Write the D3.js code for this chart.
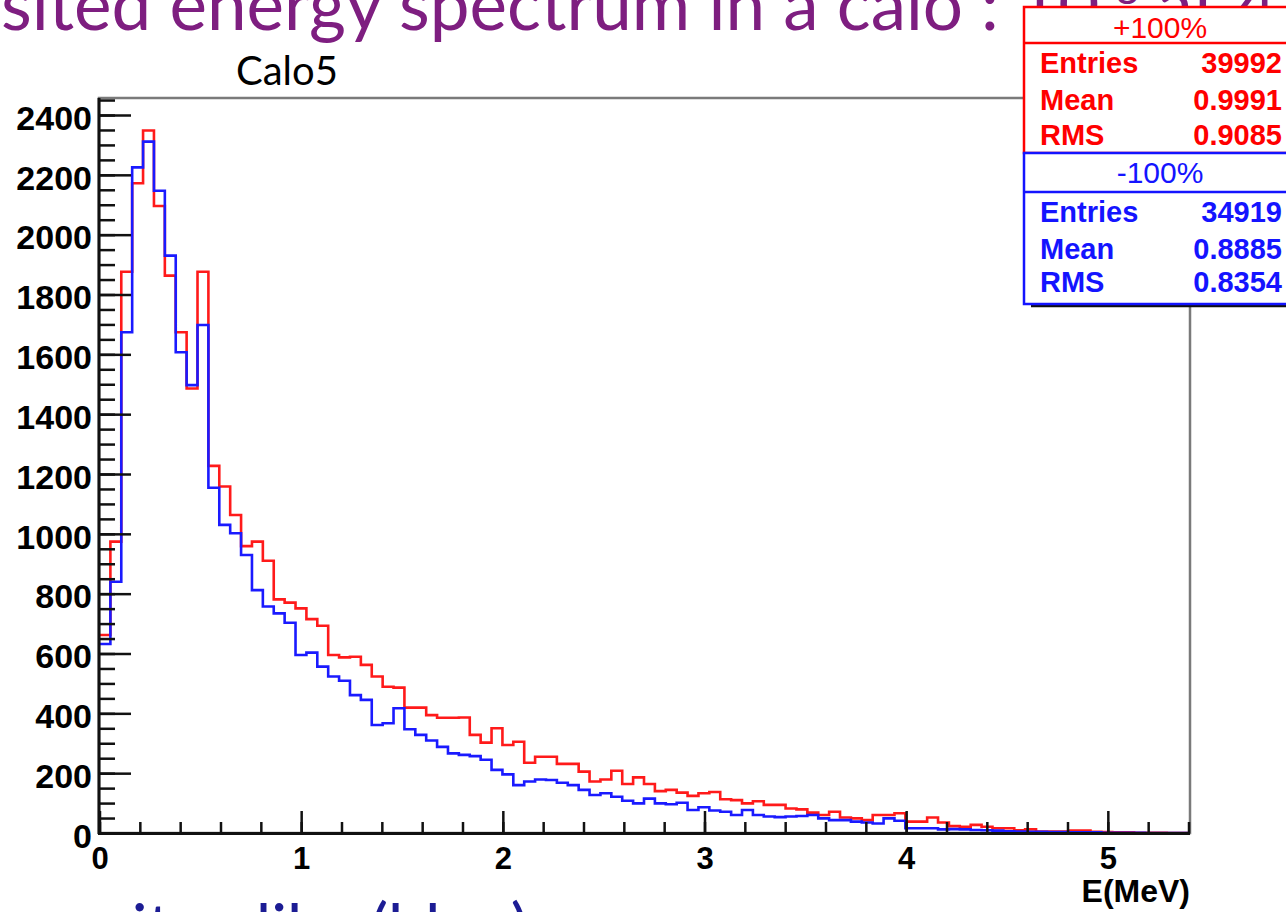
<!DOCTYPE html>
<html>
<head>
<meta charset="utf-8">
<script src="https://cdn.jsdelivr.net/npm/d3@7"></script>
<style>
  body { margin: 0; background: white; }
  svg { display: block; }
</style>
</head>
<body>
<div id="graph"></div>
<script>
// 100 bins, 0 - 5.4 MeV
const binWidth = 0.054;
const nBins = 100;

// +100% (red) bin contents
const redCounts = [
  662, 974, 1876, 2172, 2348, 2096, 1863, 1674, 1486, 1876,
  1227, 1158, 1063, 959, 974, 910, 781, 770, 751, 715,
  693, 595, 587, 589, 562, 523, 489, 486, 419, 419,
  394, 385, 385, 386, 328, 302, 350, 294, 305, 235,
  255, 255, 231, 231, 205, 172, 179, 208, 164, 186,
  164, 140, 144, 135, 124, 133, 137, 113, 110, 99,
  106, 94, 94, 82, 79, 68, 60, 71, 52, 49,
  43, 60, 60, 66, 38, 38, 52, 35, 23, 21,
  27, 21, 16, 16, 9, 12, 5, 5, 5, 8,
  8, 4, 3, 2, 2, 1, 1, 1, 0, 0
];

// -100% (blue) bin contents
const blueCounts = [
  632, 840, 1674, 2225, 2311, 2147, 1930, 1607, 1497, 1698,
  1154, 1030, 1002, 929, 812, 757, 734, 703, 595, 603,
  556, 523, 509, 461, 445, 361, 367, 417, 347, 328,
  309, 288, 266, 261, 257, 245, 211, 196, 160, 172,
  179, 177, 168, 160, 144, 127, 133, 121, 108, 99,
  115, 99, 96, 101, 77, 86, 75, 71, 60, 77,
  60, 55, 53, 55, 57, 60, 49, 43, 43, 38,
  35, 32, 49, 41, 16, 16, 16, 12, 13, 12,
  10, 9, 8, 6, 5, 4, 4, 3, 3, 2,
  2, 2, 1, 1, 1, 1, 0, 0, 0, 0
];

const xMajorTicks = [0, 1, 2, 3, 4, 5];
const yMajorTicks = [0, 200, 400, 600, 800, 1000, 1200, 1400, 1600, 1800, 2000, 2200, 2400];

const statsRed = { title: '+100%', rows: [['Entries', '39992'], ['Mean', '0.9991'], ['RMS', '0.9085']] };
const statsBlue = { title: '-100%', rows: [['Entries', '34919'], ['Mean', '0.8885'], ['RMS', '0.8354']] };

const w = 1286;
const h = 912;

const svg = d3.select('#graph')
  .append('svg')
  .attr('width', w)
  .attr('height', h);

// slide title (cut off at the top)
const titleSize = 71;
const titleText = svg.append('text')
  .attr('y', 30)
  .attr('font-family', 'Lato, sans-serif')
  .attr('font-size', titleSize)
  .attr('fill', '#7e1e80');
titleText.append('tspan').text('Deposited energy spectrum in a calo : 10');
titleText.append('tspan').attr('font-size', 42).attr('dy', -26).text('-8');
titleText.append('tspan').attr('dy', 26).text(' at 4');

// shift so that "sited" starts at the left edge
const probe = svg.append('text')
  .attr('font-family', 'Lato, sans-serif')
  .attr('font-size', titleSize)
  .text('Depo');
const prefixW = probe.node().getComputedTextLength();
probe.remove();
titleText.attr('x', -prefixW + 1);

// bottom line of slide text (cut off)
svg.append('text')
  .attr('x', 58)
  .attr('y', 951)
  .attr('font-family', 'Lato, sans-serif')
  .attr('font-size', 66)
  .attr('fill', '#1c1c94')
  .text('quite alike (blue)');

const xScale = d3.scaleLinear([0, 5.4], [99.5, 1188.5]);
const yScale = d3.scaleLinear([0, 2400], [833, 115]);

// frame
svg.append('rect')
  .attr('x', 99)
  .attr('y', 98)
  .attr('width', 1190 - 99)
  .attr('height', 833 - 98)
  .attr('fill', 'none')
  .attr('stroke', '#7a7a7a')
  .attr('stroke-width', 2.5);

// histograms
const edges = d3.range(nBins + 1).map(i => i * binWidth);
function stepPoints(counts) {
  const pts = counts.map((c, i) => [edges[i], c]);
  pts.push([edges[nBins], counts[nBins - 1]]);
  return pts;
}
const line = d3.line()
  .x(d => xScale(d[0]))
  .y(d => yScale(d[1]))
  .curve(d3.curveStepAfter);

svg.append('path')
  .attr('d', line(stepPoints(redCounts)))
  .attr('stroke', '#ff1a1a')
  .attr('stroke-width', 2.6)
  .attr('fill', 'none');

svg.append('path')
  .attr('d', line(stepPoints(blueCounts)))
  .attr('stroke', '#1a1aff')
  .attr('stroke-width', 2.6)
  .attr('fill', 'none');

// axes
const axisFont = 'Liberation Sans, Arial, sans-serif';

svg.append('g')
  .attr('transform', 'translate(99,0)')
  .call(d3.axisLeft(yScale).tickValues(d3.range(0, 2460, 50)).tickSize(-16).tickFormat(''))
  .call(g => g.select('.domain').remove())
  .call(g => g.selectAll('.tick line').attr('stroke', '#111').attr('stroke-width', 2.5));

svg.append('g')
  .attr('transform', 'translate(99,0)')
  .call(d3.axisLeft(yScale).tickValues(yMajorTicks).tickSize(-32).tickPadding(7).tickFormat(d3.format('d')))
  .call(g => g.select('.domain').remove())
  .call(g => g.selectAll('.tick line').attr('stroke', '#111').attr('stroke-width', 2.5))
  .call(g => g.selectAll('.tick text')
    .attr('dy', '0.42em')
    .attr('font-family', axisFont)
    .attr('font-weight', 'bold')
    .attr('font-size', 34)
    .attr('fill', '#000'));

svg.append('g')
  .attr('transform', 'translate(0,833)')
  .call(d3.axisBottom(xScale).tickValues(d3.range(0, 5.41, 0.2)).tickSize(-11).tickFormat(''))
  .call(g => g.select('.domain').remove())
  .call(g => g.selectAll('.tick line').attr('stroke', '#111').attr('stroke-width', 2.5));

svg.append('g')
  .attr('transform', 'translate(0,833)')
  .call(d3.axisBottom(xScale).tickValues(xMajorTicks).tickSize(-22).tickPadding(14).tickFormat(d3.format('d')))
  .call(g => g.select('.domain').remove())
  .call(g => g.selectAll('.tick line').attr('stroke', '#111').attr('stroke-width', 2.5))
  .call(g => g.selectAll('.tick text')
    .attr('font-family', axisFont)
    .attr('font-weight', 'bold')
    .attr('font-size', 31)
    .attr('fill', '#000'));

// axis lines
svg.append('line')
  .attr('x1', 99).attr('x2', 99).attr('y1', 98).attr('y2', 834)
  .attr('stroke', '#111').attr('stroke-width', 3);
svg.append('line')
  .attr('x1', 98).attr('x2', 1190).attr('y1', 833.5).attr('y2', 833.5)
  .attr('stroke', '#111').attr('stroke-width', 3);

svg.append('text')
  .attr('x', 1190)
  .attr('y', 902)
  .attr('text-anchor', 'end')
  .attr('font-family', axisFont)
  .attr('font-weight', 'bold')
  .attr('font-size', 32)
  .text('E(MeV)');

svg.append('text')
  .attr('x', 236)
  .attr('y', 85)
  .attr('font-family', 'Lato, sans-serif')
  .attr('font-size', 40)
  .attr('fill', '#000')
  .text('Calo5');

// stats boxes
function statsBox(stats, top, bottom, divider, color, baselines) {
  const g = svg.append('g');
  g.append('rect')
    .attr('x', 1024).attr('y', top)
    .attr('width', 300).attr('height', bottom - top)
    .attr('fill', 'white')
    .attr('stroke', color).attr('stroke-width', 2.5);
  g.append('line')
    .attr('x1', 1024).attr('x2', 1300).attr('y1', divider).attr('y2', divider)
    .attr('stroke', color).attr('stroke-width', 2.5);
  g.append('text')
    .attr('x', 1160).attr('y', baselines[0])
    .attr('text-anchor', 'middle')
    .attr('font-family', axisFont)
    .attr('font-size', 30)
    .attr('fill', color)
    .text(stats.title);
  stats.rows.forEach((r, i) => {
    g.append('text')
      .attr('x', 1040).attr('y', baselines[i + 1])
      .attr('font-family', axisFont)
      .attr('font-weight', 'bold')
      .attr('font-size', 29)
      .attr('fill', color)
      .text(r[0]);
    g.append('text')
      .attr('x', 1282).attr('y', baselines[i + 1])
      .attr('text-anchor', 'end')
      .attr('font-family', axisFont)
      .attr('font-weight', 'bold')
      .attr('font-size', 29)
      .attr('fill', color)
      .text(r[1]);
  });
}

// shadow under the lower box
svg.append('line')
  .attr('x1', 1031).attr('x2', 1300).attr('y1', 306).attr('y2', 306)
  .attr('stroke', '#111').attr('stroke-width', 2.5);

statsBox(statsRed, 7, 153, 43, '#ff0000', [38, 73, 110, 145]);
statsBox(statsBlue, 153, 304, 192, '#1414ff', [183, 222, 259, 292]);
</script>
</body>
</html>
